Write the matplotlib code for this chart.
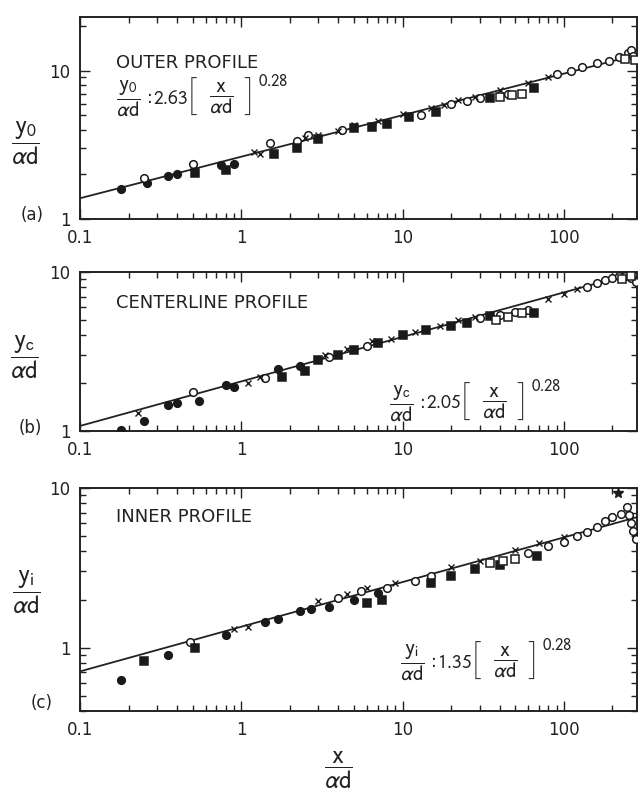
import matplotlib
matplotlib.use("Agg")
import numpy as np
from matplotlib import pyplot as plt
from matplotlib.ticker import FixedLocator, LogLocator, NullFormatter

plt.rcParams['font.family'] = ['DejaVu Sans']
plt.rcParams['mathtext.fontset'] = 'stixsans'

# fitted power laws  y/ad = C * (x/ad)^n
coef = {'a': 2.63, 'b': 2.05, 'c': 1.35}
expo = 0.28

# ---- outer profile data
a_fc_x = [0.18, 0.26, 0.35, 0.40, 0.75, 0.90]
a_fc_y = [1.60, 1.75, 1.95, 2.00, 2.30, 2.35]
a_oc_x = [0.25, 0.50, 1.50, 2.20, 2.6, 4.2, 13, 20, 25, 30, 45, 90, 110, 130, 160, 190, 220, 250, 260, 270]
a_oc_y = [1.90, 2.35, 3.25, 3.35, 3.7, 4.0, 5.0, 6.0, 6.2, 6.5, 7.0, 9.5, 10.0, 10.6, 11.2, 11.7, 12.4, 13.2, 13.8, 12.5]
a_fs_x = [0.52, 0.80, 1.60, 2.20, 3.0, 5.0, 6.5, 8.0, 11, 16, 35, 65]
a_fs_y = [2.05, 2.15, 2.75, 3.00, 3.45, 4.1, 4.2, 4.4, 4.9, 5.3, 6.5, 7.6]
a_os_x = [40, 48, 55, 240, 275]
a_os_y = [6.6, 6.9, 7.0, 12.0, 11.8]
a_tr_x = [1.2, 1.3, 2.5, 3.0, 4.0, 5.0, 7.0, 10, 15, 18, 22, 28, 40, 60, 80]
a_tr_y = [2.85, 2.75, 3.5, 3.7, 3.9, 4.3, 4.6, 5.1, 5.6, 5.9, 6.3, 6.6, 7.4, 8.2, 9.0]

# ---- centerline profile data
b_fc_x = [0.18, 0.25, 0.35, 0.40, 0.55, 0.80, 0.90, 1.7, 2.3]
b_fc_y = [1.02, 1.15, 1.45, 1.50, 1.55, 1.95, 1.90, 2.45, 2.55]
b_oc_x = [0.50, 1.40, 3.5, 6.0, 30, 40, 50, 60, 140, 160, 180, 200, 220, 240, 260, 280]
b_oc_y = [1.75, 2.15, 2.9, 3.4, 5.1, 5.4, 5.6, 5.8, 8.1, 8.5, 8.9, 9.2, 9.4, 9.5, 9.2, 8.6]
b_fs_x = [1.8, 2.5, 3.0, 4.0, 5.0, 7.0, 10, 14, 20, 25, 35, 65]
b_fs_y = [2.2, 2.4, 2.8, 3.0, 3.25, 3.6, 4.0, 4.3, 4.6, 4.8, 5.3, 5.5]
b_os_x = [38, 45, 55, 230, 260]
b_os_y = [5.0, 5.2, 5.5, 9.0, 9.4]
b_tr_x = [0.23, 1.1, 1.3, 3.3, 4.5, 6.5, 8.5, 12, 17, 22, 28, 80, 100, 120]
b_tr_y = [1.30, 2.0, 2.2, 3.0, 3.3, 3.7, 3.8, 4.2, 4.6, 5.0, 5.2, 6.8, 7.3, 7.8]

# ---- inner profile data
c_fc_x = [0.18, 0.35, 0.80, 1.4, 1.7, 2.3, 2.7, 3.5, 5.0, 7.0]
c_fc_y = [0.63, 0.90, 1.20, 1.45, 1.50, 1.70, 1.75, 1.80, 2.00, 2.20]
c_oc_x = [0.48, 4.0, 5.5, 8.0, 12, 15, 60, 80, 100, 120, 140, 160, 180, 200, 225, 245, 255, 262, 270, 280]
c_oc_y = [1.08, 2.05, 2.25, 2.35, 2.6, 2.8, 3.9, 4.3, 4.6, 5.0, 5.3, 5.7, 6.2, 6.6, 6.9, 7.6, 6.8, 6.0, 5.4, 4.8]
c_fs_x = [0.25, 0.52, 6.0, 7.5, 15, 20, 28, 40, 68]
c_fs_y = [0.82, 1.00, 1.90, 2.00, 2.55, 2.80, 3.10, 3.30, 3.75]
c_os_x = [35, 42, 50]
c_os_y = [3.4, 3.5, 3.6]
c_tr_x = [0.9, 1.1, 3.0, 4.5, 6.0, 9.0, 20, 30, 50, 70, 100]
c_tr_y = [1.30, 1.35, 1.95, 2.15, 2.35, 2.55, 3.2, 3.5, 4.1, 4.5, 4.9]
c_st_x = [215]
c_st_y = [9.3]

x_ticks = [0.1, 1, 10, 100]
x_labels = ['0.1', '1', '10', '100']
xmax = 284

W, H = 643, 793
fig = plt.figure(figsize=(W / 100, H / 100), dpi=100)
tc = '#222222'


def box(top, bottom, left=80, right=637):
    return [left / W, 1 - bottom / H, (right - left) / W, (bottom - top) / H]


def put(x, y, s, **kw):
    # place text by pixel position measured from the top-left corner
    kw.setdefault('color', tc)
    kw.setdefault('va', 'center')
    return fig.text(x / W, 1 - y / H, s, **kw)


def panel(rect, key, ylim, data):
    ax = fig.add_axes(rect)
    ax.set_xscale('log')
    ax.set_yscale('log')
    ax.set_xlim(0.1, xmax)
    ax.set_ylim(*ylim)
    xs = np.array([0.1, xmax])
    ax.plot(xs, coef[key] * xs ** expo, color=tc, lw=1.3, zorder=2)
    fc, oc, fs, os_, tr = data[:5]
    kw = dict(ls='none', ms=5.5, mew=1.1, zorder=3)
    ax.plot(*fc, marker='o', color='#1a1a1a', **kw)
    ax.plot(*oc, marker='o', mfc='white', mec='#1a1a1a', **kw)
    ax.plot(*fs, marker='s', color='#1a1a1a', **kw)
    ax.plot(*os_, marker='s', mfc='white', mec='#1a1a1a', **kw)
    ax.plot(*tr, marker='x', color='#1a1a1a', ls='none', ms=4, mew=1.0, zorder=3)
    if len(data) > 5:
        ax.plot(*data[5], marker='*', color='#1a1a1a', ls='none', ms=7, zorder=3)
    ax.xaxis.set_major_locator(FixedLocator(x_ticks))
    ax.set_xticklabels(x_labels)
    ax.yaxis.set_major_locator(FixedLocator([1, 10]))
    ax.set_yticklabels(['1', '10'])
    for axis in (ax.xaxis, ax.yaxis):
        axis.set_minor_locator(LogLocator(base=10, subs=np.arange(2, 10)))
        axis.set_minor_formatter(NullFormatter())
    ax.tick_params(which='both', direction='in', top=True, right=True,
                   labelsize=12, colors=tc, width=1.0)
    ax.tick_params(which='major', length=7, pad=7)
    ax.tick_params(which='minor', length=4)
    for s in ax.spines.values():
        s.set_linewidth(1.4)
        s.set_color(tc)
    return ax


ax_a = panel(box(17, 219), 'a', (1, 23),
             [(a_fc_x, a_fc_y), (a_oc_x, a_oc_y), (a_fs_x, a_fs_y), (a_os_x, a_os_y), (a_tr_x, a_tr_y)])
ax_b = panel(box(272, 431), 'b', (1, 10),
             [(b_fc_x, b_fc_y), (b_oc_x, b_oc_y), (b_fs_x, b_fs_y), (b_os_x, b_os_y), (b_tr_x, b_tr_y)])
ax_c = panel(box(488, 711), 'c', (0.4, 10),
             [(c_fc_x, c_fc_y), (c_oc_x, c_oc_y), (c_fs_x, c_fs_y), (c_os_x, c_os_y), (c_tr_x, c_tr_y),
              (c_st_x, c_st_y)])

frac = r'$\dfrac{\mathrm{%s}}{\alpha\mathrm{d}}$'
brk = dict(fontsize=28, family=['Roboto', 'DejaVu Sans'], weight='light')


def law(x0, yc, num, c):
    # y/ad : C [ x/ad ]^0.28 laid out piece by piece
    put(x0, yc, frac % num, fontsize=15)
    put(x0 + 31, yc, ':', fontsize=12)
    put(x0 + 37, yc, '$%.2f$' % c, fontsize=14)
    put(x0 + 72, yc + 1, '[', **brk)
    put(x0 + 93, yc, frac % 'x', fontsize=15)
    put(x0 + 128, yc + 1, ']', **brk)
    put(x0 + 142, yc - 17, '$%.2f$' % expo, fontsize=12)


# panel titles and fitted laws
put(116, 63, 'OUTER PROFILE', fontsize=13)
law(116, 98, 'y_0', coef['a'])
put(116, 303, 'CENTERLINE PROFILE', fontsize=13)
law(389, 403, 'y_c', coef['b'])
put(116, 517, 'INNER PROFILE', fontsize=13)
law(400, 662, 'y_i', coef['c'])

# axis labels
put(25, 143, frac % 'y_0', fontsize=18, ha='center')
put(24, 357, frac % 'y_c', fontsize=18, ha='center')
put(26, 592, frac % 'y_i', fontsize=18, ha='center')
put(338, 770, frac % 'x', fontsize=18, ha='center')

# panel letters
put(32, 215, '(a)', fontsize=12, ha='center')
put(30, 428, '(b)', fontsize=12, ha='center')
put(42, 703, '(c)', fontsize=12, ha='center')

fig.savefig('out.png', dpi=100, facecolor='white')
